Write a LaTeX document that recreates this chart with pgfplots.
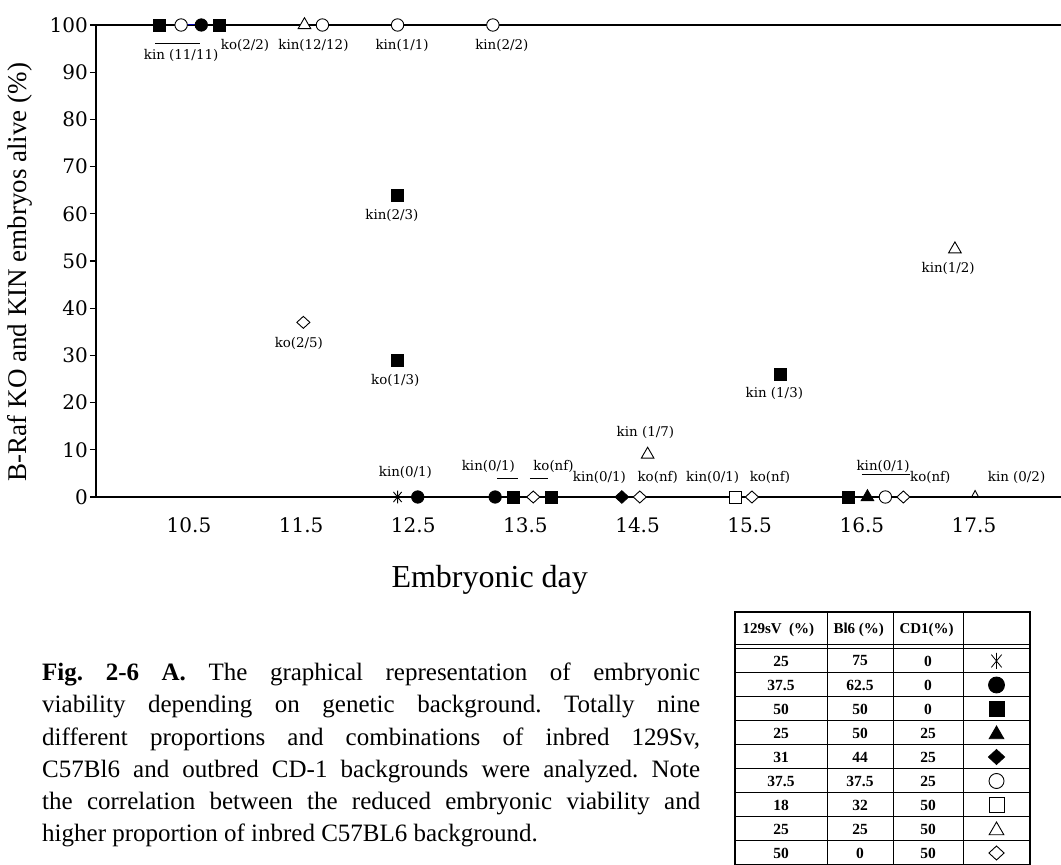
\documentclass[border=0pt]{standalone}
\usepackage{fontspec}
\setmainfont{Liberation Serif}
\newfontfamily\dejavu{DejaVu Serif}
\usepackage{pgfplots}
\pgfplotsset{compat=1.18}

% asterisk drawn as a vertical bar with a steep X
\pgfdeclareplotmark{xstar}{%
  \pgfpathmoveto{\pgfqpoint{0pt}{-\pgfplotmarksize}}%
  \pgfpathlineto{\pgfqpoint{0pt}{\pgfplotmarksize}}%
  \pgfpathmoveto{\pgfqpoint{-0.65\pgfplotmarksize}{-0.8\pgfplotmarksize}}%
  \pgfpathlineto{\pgfqpoint{0.65\pgfplotmarksize}{0.8\pgfplotmarksize}}%
  \pgfpathmoveto{\pgfqpoint{-0.65\pgfplotmarksize}{0.8\pgfplotmarksize}}%
  \pgfpathlineto{\pgfqpoint{0.65\pgfplotmarksize}{-0.8\pgfplotmarksize}}%
  \pgfusepathqstroke}
% open triangle whose base sits on the axis line
\pgfdeclareplotmark{caret}{%
  \pgfpathmoveto{\pgfqpoint{-0.7\pgfplotmarksize}{0pt}}%
  \pgfpathlineto{\pgfqpoint{0pt}{1.3\pgfplotmarksize}}%
  \pgfpathlineto{\pgfqpoint{0.7\pgfplotmarksize}{0pt}}%
  \pgfusepathqstroke}

\newcommand\tickfont{\dejavu\fontsize{20}{24}\selectfont}
\newcommand\lbl{\dejavu\fontsize{13.4}{15}\selectfont}
\newcommand\tabfont{\bfseries\fontsize{15.5}{18}\selectfont}

\pgfplotsset{
  fk/.style={only marks, mark options={draw=black, fill=black, line width=0.8pt}},
  wh/.style={only marks, mark options={draw=black, fill=white, line width=0.9pt}},
  fkd/.style={only marks, mark=diamond*, mark options={draw=black, fill=black, line width=0.8pt, xscale=1.45}},
  whd/.style={only marks, mark=diamond*, mark options={draw=black, fill=white, line width=0.9pt, xscale=1.45}},
}

\begin{document}
\begin{tikzpicture}
\useasboundingbox (0pt,0pt) rectangle (1061pt,865pt);

\begin{axis}[
  at={(96pt,368pt)}, anchor=south west, scale only axis,
  width=965pt, height=472pt,
  xmin=9.671, xmax=18.276, ymin=0, ymax=100,
  axis x line*=box, axis y line*=left,
  axis line style={line width=1.2pt, -},
  tick pos=left, tick align=outside, major tick length=6pt,
  xtick={10.5,11.5,12.5,13.5,14.5,15.5,16.5,17.5},
  xticklabels={10.5,11.5,12.5,13.5,14.5,15.5,16.5,17.5},
  ytick={0,10,20,30,40,50,60,70,80,90,100},
  yticklabels={0,10,20,30,40,50,60,70,80,90,100},
  xtick style={draw=none},
  ytick style={line width=1.2pt, black},
  ticklabel style={font=\tickfont},
  xticklabel style={anchor=base, yshift=-29.5pt},
  yticklabel style={anchor=east, inner sep=0pt, xshift=-2pt},
  xlabel={Embryonic day},
  ylabel={B-Raf KO and KIN embryos alive (\%)},
  xlabel style={font=\fontsize{32}{36}\selectfont, at={(axis description cs:0.408,-0.191)}, anchor=base},
  ylabel style={font=\fontsize{27}{30}\selectfont, at={(axis description cs:-0.0715,0.4767)}, anchor=base},
  clip=false,
]
% short blue join on the 100 % line
\addplot[blue!70!black, line width=1pt] coordinates {(10.43,100) (10.61,100)};

% 50/50/0 filled square
\addplot[fk, mark=square*, mark size=6pt] coordinates {
  (10.24,100) (10.77,100) (12.36,64) (12.36,29) (15.77,26)
  (13.39,0) (13.73,0) (16.38,0)};
% 37.5/62.5/0 filled circle
\addplot[fk, mark=*, mark size=6.2pt] coordinates {
  (10.61,100) (12.54,0) (13.23,0)};
% 37.5/37.5/25 open circle
\addplot[wh, mark=*, mark size=6.2pt] coordinates {
  (10.43,100) (11.69,100) (12.36,100) (13.21,100) (16.71,0)};
% 25/25/50 open triangle
\addplot[wh, mark=triangle*, mark size=7.3pt] coordinates {
  (11.53,100) (17.33,52.5) (14.59,9)};
% 25/50/25 filled triangle
\addplot[fk, mark=triangle*, mark size=7.3pt] coordinates {(16.55,0)};
% 50/0/50 open diamond
\addplot[whd, mark size=6pt] coordinates {
  (11.52,37) (13.57,0) (14.52,0) (15.52,0) (16.87,0)};
% 31/44/25 filled diamond
\addplot[fkd, mark size=6.3pt] coordinates {(14.36,0)};
% 18/32/50 open square
\addplot[wh, mark=square*, mark size=6pt] coordinates {(15.37,0)};
% 25/75/0 asterisk
\addplot[only marks, mark=xstar, mark size=6.3pt, mark options={draw=black, line width=0.9pt}] coordinates {(12.36,0)};
% kin (0/2) at 17.5
\addplot[only marks, mark=caret, mark size=5pt, mark options={draw=black, line width=0.9pt}] coordinates {(17.51,0)};

% point labels
\node[font=\lbl] at (axis cs:10.43,93.6) {kin (11/11)};
\draw[line width=0.9pt] (axis cs:10.20,96.0) -- (axis cs:10.60,96.0);
\node[font=\lbl] at (axis cs:11.00,95.6) {ko(2/2)};
\node[font=\lbl] at (axis cs:11.61,95.6) {kin(12/12)};
\node[font=\lbl] at (axis cs:12.40,95.6) {kin(1/1)};
\node[font=\lbl] at (axis cs:13.29,95.6) {kin(2/2)};
\node[font=\lbl] at (axis cs:11.48,32.6) {ko(2/5)};
\node[font=\lbl] at (axis cs:12.34,24.6) {ko(1/3)};
\node[font=\lbl] at (axis cs:12.31,59.7) {kin(2/3)};
\node[font=\lbl] at (axis cs:17.27,48.5) {kin(1/2)};
\node[font=\lbl] at (axis cs:15.72,22.0) {kin (1/3)};
\node[font=\lbl] at (axis cs:14.57,13.6) {kin (1/7)};
\node[font=\lbl] at (axis cs:12.43,5.3) {kin(0/1)};
\node[font=\lbl] at (axis cs:13.17,6.4) {kin(0/1)};
\node[font=\lbl] at (axis cs:13.75,6.4) {ko(nf)};
\draw[line width=0.9pt] (axis cs:13.25,4.0) -- (axis cs:13.43,4.0);
\draw[line width=0.9pt] (axis cs:13.54,4.0) -- (axis cs:13.70,4.0);
\node[font=\lbl] at (axis cs:14.16,4.2) {kin(0/1)};
\node[font=\lbl] at (axis cs:14.68,4.2) {ko(nf)};
\node[font=\lbl] at (axis cs:15.17,4.2) {kin(0/1)};
\node[font=\lbl] at (axis cs:15.68,4.2) {ko(nf)};
\node[font=\lbl] at (axis cs:16.69,6.4) {kin(0/1)};
\draw[line width=0.9pt] (axis cs:16.50,4.7) -- (axis cs:16.93,4.7);
\node[font=\lbl] at (axis cs:17.11,4.2) {ko(nf)};
\node[font=\lbl] at (axis cs:17.88,4.2) {kin (0/2)};
\end{axis}

% symbol column of the background table
\begin{axis}[
  at={(735pt,0pt)}, anchor=south west, scale only axis,
  width=295pt, height=253pt,
  xmin=735, xmax=1030, ymin=0, ymax=253,
  hide axis, clip=false,
]
\addplot[only marks, mark=xstar, mark size=8pt, mark options={draw=black, line width=0.8pt}] coordinates {(996.5,204)};
\addplot[fk, mark=*, mark size=8pt] coordinates {(996.5,180)};
\addplot[fk, mark=square*, mark size=7.5pt] coordinates {(996.5,156)};
\addplot[fk, mark=triangle*, mark size=8.5pt] coordinates {(996.5,130.5)};
\addplot[fkd, mark size=7.5pt] coordinates {(996.5,108)};
\addplot[wh, mark=*, mark size=7.5pt] coordinates {(996.5,84)};
\addplot[wh, mark=square*, mark size=7.5pt] coordinates {(996.5,60)};
\addplot[wh, mark=triangle*, mark size=8.5pt] coordinates {(996.5,34.5)};
\addplot[whd, mark size=7pt] coordinates {(996.5,12)};
\end{axis}

% table grid
\draw[line width=1.2pt] (735pt,0pt) rectangle (1030pt,253pt);
\foreach \xx in {827,893,963} \draw[line width=1pt] (\xx pt,0pt) -- (\xx pt,253pt);
\draw[line width=1pt] (735pt,220pt) -- (1030pt,220pt);
\draw[line width=1pt] (735pt,216pt) -- (1030pt,216pt);
\foreach \k in {1,...,8} {
  \pgfmathsetmacro\yy{216-24*\k}
  \draw[line width=1pt] (735pt,\yy pt) -- (1030pt,\yy pt);
}
\node[anchor=west, font=\bfseries\fontsize{15}{17}\selectfont] at (739pt,235pt) {129sV\enspace(\%)};
\node[anchor=west, font=\bfseries\fontsize{15}{17}\selectfont] at (830pt,235pt) {Bl6 (\%)};
\node[anchor=west, font=\bfseries\fontsize{15}{17}\selectfont] at (896pt,235pt) {CD1(\%)};
\foreach \a/\b/\c [count=\i from 0] in {25/75/0, 37.5/62.5/0, 50/50/0, 25/50/25, 31/44/25, 37.5/37.5/25, 18/32/50, 25/25/50, 50/0/50} {
  \pgfmathsetmacro\yy{204-24*\i}
  \node[font=\tabfont] at (781pt,\yy pt) {\a};
  \node[font=\tabfont] at (860pt,\yy pt) {\b};
  \node[font=\tabfont] at (928pt,\yy pt) {\c};
}

% caption
\node[anchor=north west, inner sep=0pt, text width=658pt, align=justify,
      font=\fontsize{25}{32.2}\selectfont] at (42pt,202pt)
  {\frenchspacing\hyphenpenalty=10000\tolerance=9999
   \textbf{Fig. 2-6 A.} The graphical representation of embryonic\linebreak
   viability depending on genetic background. Totally nine\linebreak
   different proportions and combinations of inbred 129Sv,\linebreak
   C57Bl6 and outbred CD-1 backgrounds were analyzed. Note\linebreak
   the correlation between the reduced embryonic viability and\linebreak
   higher proportion of inbred C57BL6 background.};
\end{tikzpicture}
\end{document}
